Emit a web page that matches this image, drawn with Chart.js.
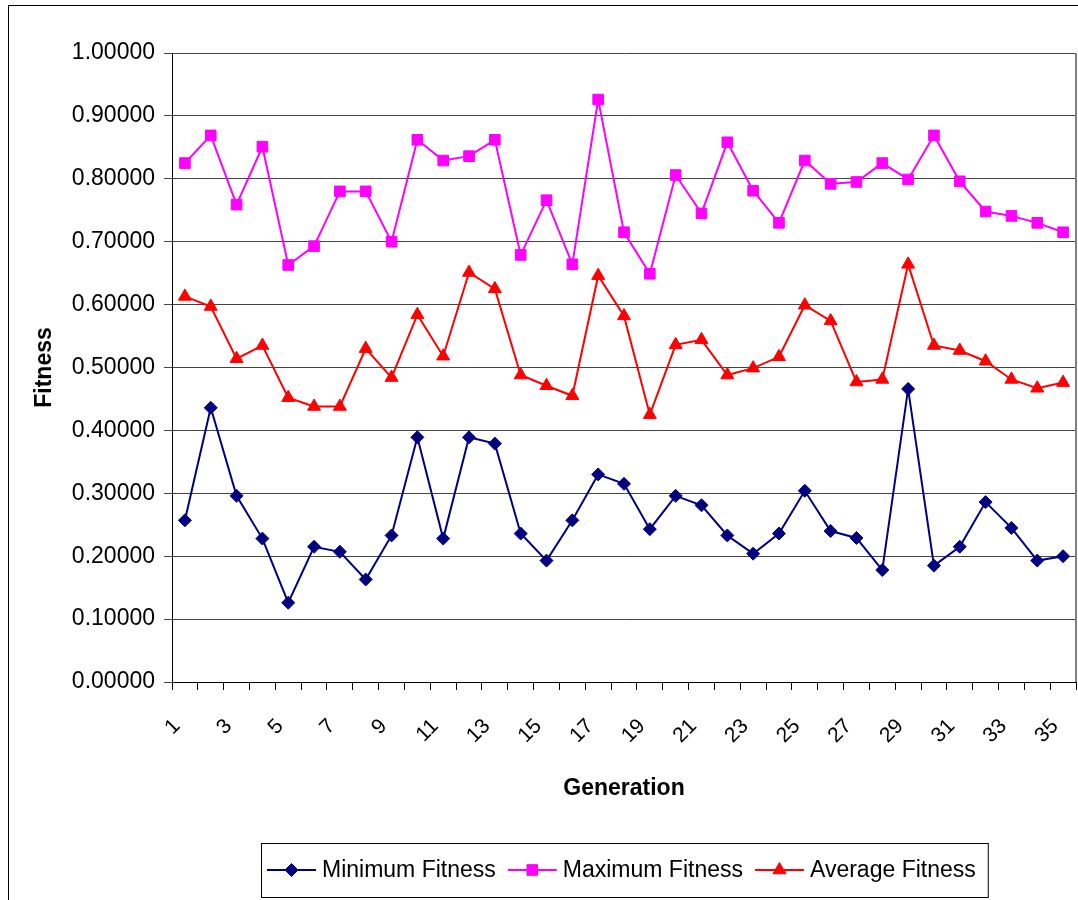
<!DOCTYPE html>
<html>
<head>
<meta charset="utf-8">
<script src="https://cdn.jsdelivr.net/npm/chart.js@4/dist/chart.umd.min.js"></script>
<style>
  body { margin: 0; background: #fff; }
  #wrap { position: relative; width: 1078px; height: 900px; overflow: hidden; }
  #frame { position: absolute; left: 8px; top: 5px; width: 2000px; height: 2000px;
           border-left: 1px solid #000; border-top: 1px solid #000; pointer-events: none; }
</style>
</head>
<body>
<div id="wrap">
  <canvas id="fitChart"></canvas>
  <div id="frame"></div>
</div>
<script>
// data
const generations = ['1','2','3','4','5','6','7','8','9','10','11','12','13','14','15','16','17','18',
  '19','20','21','22','23','24','25','26','27','28','29','30','31','32','33','34','35'];

const minFitness = [0.257, 0.436, 0.296, 0.228, 0.126, 0.215, 0.207, 0.163, 0.233, 0.389,
  0.228, 0.389, 0.379, 0.236, 0.193, 0.257, 0.330, 0.315, 0.243, 0.296,
  0.281, 0.233, 0.204, 0.236, 0.304, 0.240, 0.229, 0.178, 0.466, 0.185,
  0.215, 0.286, 0.245, 0.193, 0.200];

const maxFitness = [0.825, 0.869, 0.759, 0.851, 0.663, 0.693, 0.780, 0.780, 0.700, 0.862,
  0.829, 0.836, 0.862, 0.679, 0.766, 0.664, 0.926, 0.715, 0.649, 0.806,
  0.745, 0.858, 0.781, 0.730, 0.829, 0.792, 0.795, 0.825, 0.799, 0.869,
  0.796, 0.748, 0.741, 0.730, 0.715];

const avgFitness = [0.613, 0.597, 0.514, 0.535, 0.452, 0.438, 0.438, 0.530, 0.484, 0.584,
  0.518, 0.651, 0.625, 0.488, 0.471, 0.455, 0.646, 0.582, 0.425, 0.536,
  0.544, 0.488, 0.499, 0.517, 0.599, 0.574, 0.477, 0.481, 0.664, 0.535,
  0.527, 0.510, 0.481, 0.467, 0.476];

const yTicks = [0, 0.1, 0.2, 0.3, 0.4, 0.5, 0.6, 0.7, 0.8, 0.9, 1.0];

const FONT = "'Liberation Sans', Arial, sans-serif";

// right border of the plot area
const plotBorder = {
  id: 'plotBorder',
  afterDraw(chart) {
    const { ctx, chartArea: a } = chart;
    ctx.save();
    ctx.strokeStyle = '#808080';
    ctx.lineWidth = 2;
    ctx.beginPath();
    ctx.moveTo(Math.round(a.right), a.top);
    ctx.lineTo(Math.round(a.right), a.bottom);
    ctx.stroke();
    ctx.restore();
  }
};

// excel style legend: line + marker, boxed, under the plot
const boxLegend = {
  id: 'boxLegend',
  afterDraw(chart) {
    const ctx = chart.ctx;
    const a = chart.chartArea;
    ctx.save();
    ctx.font = '23px ' + FONT;
    const items = chart.data.datasets.map(ds => ({ ds, w: ctx.measureText(ds.label).width }));
    const iconW = 49, gap = 6, sep = 12, padL = 6;
    let total = padL;
    items.forEach(it => { total += iconW + gap + it.w + sep; });
    const left = Math.round((a.left + a.right) / 2 - total / 2);
    const top = 843, h = 54, cy = top + h / 2;
    ctx.fillStyle = '#fff';
    ctx.fillRect(left, top, total, h);
    ctx.strokeStyle = '#000';
    ctx.lineWidth = 1;
    ctx.strokeRect(left + 0.5, top + 0.5, total, h);
    let x = left + padL;
    items.forEach(it => {
      const ds = it.ds;
      ctx.strokeStyle = ds.borderColor;
      ctx.lineWidth = ds.borderWidth;
      ctx.beginPath();
      ctx.moveTo(x, cy);
      ctx.lineTo(x + iconW, cy);
      ctx.stroke();
      ctx.fillStyle = ds.pointBackgroundColor;
      ctx.strokeStyle = ds.pointBorderColor;
      ctx.lineWidth = 1;
      Chart.helpers.drawPoint(ctx, { pointStyle: ds.pointStyle, radius: ds.pointRadius, rotation: 0, borderWidth: 1 },
        x + iconW / 2, cy);
      ctx.fillStyle = '#000';
      ctx.textBaseline = 'middle';
      ctx.textAlign = 'left';
      ctx.fillText(ds.label, x + iconW + gap, cy + 1);
      x += iconW + gap + it.w + sep;
    });
    ctx.restore();
  }
};

function series(label, data, color, style, radius) {
  return {
    label: label,
    data: data,
    borderColor: color,
    borderWidth: 2,
    backgroundColor: color,
    pointStyle: style,
    pointRadius: radius,
    pointBackgroundColor: color,
    pointBorderColor: color,
    pointBorderWidth: 1,
    tension: 0
  };
}

new Chart(document.getElementById('fitChart'), {
  type: 'line',
  data: {
    labels: generations,
    datasets: [
      series('Minimum Fitness', minFitness, '#000080', 'rectRot', 6.5),
      series('Maximum Fitness', maxFitness, '#FF00FF', 'rect', 7.5),
      series('Average Fitness', avgFitness, '#FF0000', 'triangle', 7.5)
    ]
  },
  options: {
    responsive: true,
    maintainAspectRatio: false,
    animation: false,
    layout: { autoPadding: false, padding: { top: 53, left: 0, right: 2, bottom: 88 } },
    plugins: {
      legend: { display: false },
      tooltip: { enabled: false }
    },
    scales: {
      x: {
        type: 'category',
        offset: true,
        border: { display: true, color: '#000', width: 1 },
        grid: { offset: true, drawOnChartArea: false, drawTicks: true, tickLength: 8, color: '#000' },
        ticks: {
          autoSkip: false,
          maxRotation: 45,
          minRotation: 45,
          padding: 24,
          labelOffset: -8,
          color: '#000',
          font: { family: FONT, size: 21 },
          callback: (v, i) => (i % 2 === 0 ? generations[i] : '')
        },
        title: {
          display: true,
          text: 'Generation',
          color: '#000',
          font: { family: FONT, size: 23, weight: 'bold' },
          padding: { top: 0, bottom: 10 }
        },
        afterFit(scale) {
          scale.height = 130;
          scale.paddingLeft = 0;
          scale.paddingRight = 0;
        }
      },
      y: {
        min: 0,
        max: 1,
        border: { display: true, color: '#000', width: 1 },
        grid: { color: '#444', lineWidth: 1, tickLength: 8 },
        afterBuildTicks(scale) {
          scale.ticks = yTicks.map(v => ({ value: v }));
        },
        ticks: {
          padding: 9,
          color: '#000',
          font: { family: FONT, size: 23 },
          callback: v => Number(v).toFixed(5)
        },
        title: {
          display: true,
          text: 'Fitness',
          color: '#000',
          font: { family: FONT, size: 23, weight: 'bold' },
          padding: { top: 31, bottom: 0 }
        },
        afterFit(scale) {
          scale.width = 172;
          scale.paddingTop = 0;
          scale.paddingBottom = 0;
        }
      }
    }
  },
  plugins: [plotBorder, boxLegend]
});
</script>
</body>
</html>
